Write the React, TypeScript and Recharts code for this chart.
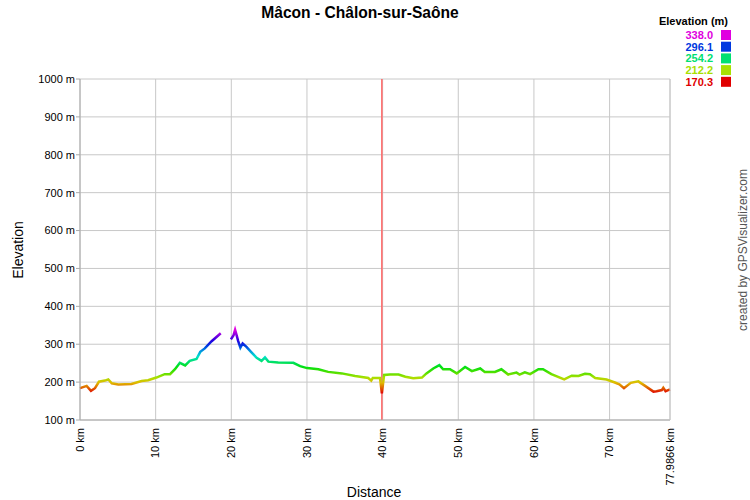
import React from 'react';
import { LineChart, Line, XAxis, YAxis, CartesianGrid, ReferenceLine } from 'recharts';

// distance (km) and elevation (m); null = gap in the track
const distances = [
  0, 0.88, 1.45, 1.98, 2.5, 3.3, 3.74, 4.2, 5.07, 6.8, 8.15, 9.0, 10.1, 11.2, 11.9, 12.56, 13.2, 13.9, 14.5,
  15.4, 15.9, 16.5, 17.4, 18.6, 19.3, 19.95, 20.3, 20.5, 20.7, 20.9, 21.2, 21.5, 22.0, 22.6, 23.35, 24.0, 24.45,
  24.9, 26.2, 28.2, 29.1, 30.0, 31.5, 32.8, 34.6, 36.35, 38.1, 38.5, 38.7, 39.65, 39.9, 40.2, 41.0, 42.1, 43.0,
  44.05, 45.2, 45.8, 46.7, 47.5, 48.0, 48.9, 49.8, 50.9, 51.8, 52.9, 53.5, 54.85, 55.7, 56.6, 57.7, 58.1, 58.8,
  59.5, 60.6, 61.2, 62.3, 64.0, 65.0, 65.9, 66.75, 67.4, 68.1, 69.6, 70.7, 71.3, 71.9, 72.8, 73.8, 74.7, 75.8,
  76.2, 76.9, 77.1, 77.4, 77.9866,
];
const elevations: (number | null)[] = [
  184, 190, 177, 184, 201, 204, 207, 197, 194, 195, 203, 205, 212, 221, 221, 234, 251, 244, 256,
  261, 280, 289, 308, 329, null, 313, 324, 338, 324, 309, 291, 302, 293, 280, 264, 256, 265,
  254, 252, 251, 242, 237, 234, 227, 223, 216, 211, 204, 211, 211, 170.3, 219, 220, 220, 214,
  210, 212, 223, 236, 245, 234, 234, 223, 240, 229, 236, 227, 227, 234, 220, 225, 220, 226,
  221, 234, 234, 221, 207, 217, 216, 222, 221, 211, 207, 199, 194, 184, 198, 202, 190, 175,
  176, 179, 185, 176, 181,
];
const xTicks = [0, 10, 20, 30, 40, 50, 60, 70, 77.9866];
const yTicks = [100, 200, 300, 400, 500, 600, 700, 800, 900, 1000];
const legendValues = [338.0, 296.1, 254.2, 212.2, 170.3];
const markerKm = 39.9;

const data = distances.map((d, i) => ({ d, e: elevations[i] }));

const minE = 170.3;
const maxE = 338.0;
const hueFor = (v: number) => (300 * (v - minE)) / (maxE - minE);
const colorFor = (v: number) => `hsl(${hueFor(v)}, 100%, 44%)`;

const font = '"Liberation Sans", Arial, sans-serif';

const XTick = (props: any) => {
  const { x, y, payload } = props;
  return (
    <text x={x} y={y} dy="0.35em" transform={`rotate(-90 ${x} ${y})`} textAnchor="end" fontSize={11} fill="#000" fontFamily={font}>
      {payload.value} km
    </text>
  );
};

const stops = Array.from({ length: 13 }, (_, i) => i / 12);

export default function App() {
  return (
    <div style={{ position: 'absolute', left: 0, top: 0, width: 750, height: 500, background: '#fff' }}>
      <LineChart width={750} height={500} data={data} margin={{ top: 79, right: 80, left: 0, bottom: 0 }}>
        <defs>
          <linearGradient id="elevGrad" x1="0" y1="0" x2="0" y2="1">
            {stops.map((t) => (
              <stop key={t} offset={t} stopColor={`hsl(${300 * (1 - t)}, 100%, 44%)`} />
            ))}
          </linearGradient>
        </defs>
        <CartesianGrid stroke="#c8c8c8" vertical horizontal />
        <XAxis
          dataKey="d"
          type="number"
          domain={[0, 77.9866]}
          ticks={xTicks}
          interval={0}
          height={80}
          tickSize={0}
          tickMargin={8}
          tick={<XTick />}
          axisLine={{ stroke: '#aaa' }}
          tickLine={false}
        />
        <YAxis
          type="number"
          domain={[100, 1000]}
          ticks={yTicks}
          interval={0}
          width={80}
          tickSize={4}
          tickMargin={1}
          tickFormatter={(v: number) => `${v} m`}
          tick={{ fontSize: 11, fill: '#000', fontFamily: font }}
          axisLine={{ stroke: '#aaa' }}
          tickLine={{ stroke: '#aaa' }}
        />
        <ReferenceLine x={markerKm} stroke="#ff6666" strokeWidth={1.5} />
        <Line
          dataKey="e"
          stroke="url(#elevGrad)"
          strokeWidth={2.5}
          dot={false}
          connectNulls={false}
          isAnimationActive={false}
          type="linear"
        />
      </LineChart>
      <svg width={750} height={500} style={{ position: 'absolute', left: 0, top: 0, pointerEvents: 'none' }} fontFamily={font}>
        <line x1={670} y1={79} x2={670} y2={420} stroke="#c8c8c8" />
        <text x={360} y={18} textAnchor="middle" fontSize={15.6} fontWeight="bold">
          Mâcon - Châlon-sur-Saône
        </text>
        <text x={728} y={25} textAnchor="end" fontSize={11} fontWeight="bold">
          Elevation (m)
        </text>
        {legendValues.map((v, i) => (
          <g key={v}>
            <text x={713} y={39 + i * 11.7} textAnchor="end" fontSize={11} fontWeight="bold" fill={colorFor(v)}>
              {v.toFixed(1)}
            </text>
            <rect x={721} y={30 + i * 11.7} width={10} height={10} fill={colorFor(v)} />
          </g>
        ))}
        <text x={23} y={250} textAnchor="middle" fontSize={14} transform="rotate(-90 23 250)">
          Elevation
        </text>
        <text x={374} y={497} textAnchor="middle" fontSize={14}>
          Distance
        </text>
        <text x={747} y={250} textAnchor="middle" fontSize={12} fill="#555" transform="rotate(-90 747 250)">
          created by GPSVisualizer.com
        </text>
      </svg>
    </div>
  );
}
